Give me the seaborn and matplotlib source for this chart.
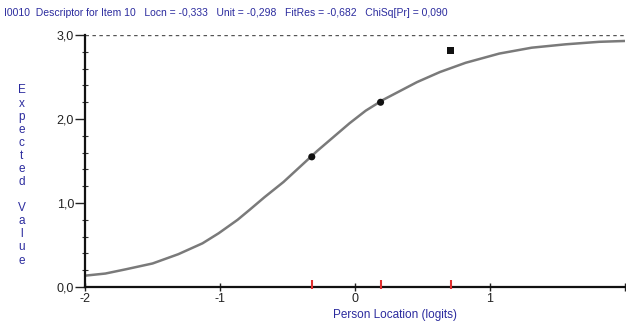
import matplotlib
matplotlib.use("Agg")
import matplotlib.pyplot as plt
import seaborn as sns
import pandas as pd
from matplotlib.ticker import MultipleLocator, FuncFormatter

sns.set_style("white")
plt.rcParams['font.family'] = ['Liberation Sans', 'DejaVu Sans']

# expected value curve
curve_x = [-2.0, -1.85, -1.70, -1.50, -1.31, -1.13, -1.01, -0.87, -0.78, -0.67, -0.53,
           -0.28, -0.04, 0.08, 0.21, 0.46, 0.63, 0.82, 1.07, 1.31, 1.56, 1.81, 2.0]
curve_y = [0.135, 0.16, 0.21, 0.28, 0.39, 0.52, 0.64, 0.80, 0.92, 1.07, 1.25,
           1.62, 1.95, 2.10, 2.23, 2.44, 2.56, 2.67, 2.78, 2.85, 2.89, 2.92, 2.93]

# observed class interval means
obs_x = [-0.32, 0.19, 0.71]
obs_y = [1.55, 2.20, 2.82]
obs_marker = ['o', 'o', 's']

max_score = 3.0
title = ("I0010  Descriptor for Item 10   Locn = -0,333   Unit = -0,298   "
         "FitRes = -0,682   ChiSq[Pr] = 0,090")
blue = '#2b2b9e'

df = pd.DataFrame({'loc': curve_x, 'ev': curve_y})
obs = pd.DataFrame({'loc': obs_x, 'ev': obs_y, 'm': obs_marker})

fig = plt.figure(figsize=(6.26, 3.25), dpi=100)
ax = fig.add_axes([0.136, 0.117, 0.862, 0.775])

sns.lineplot(data=df, x='loc', y='ev', ax=ax, color='#7a7a7a', lw=1.8, zorder=2)
sns.scatterplot(data=obs, x='loc', y='ev', style='m', markers={'o': 'o', 's': 's'},
                ax=ax, color='#111111', s=26, linewidth=0, legend=False, zorder=4)
ax.axhline(max_score, color='#555555', lw=1, ls=(0, (2.5, 2.5)))
ax.vlines(obs_x, -0.02, 0.08, color='#e03030', lw=1.5, clip_on=False, zorder=5)

ax.set_xlim(-2, 2)
ax.set_ylim(0, 3)
ax.xaxis.set_major_locator(MultipleLocator(1))
ax.yaxis.set_major_locator(MultipleLocator(1))
ax.yaxis.set_minor_locator(MultipleLocator(0.2))
ax.xaxis.set_major_formatter(FuncFormatter(lambda v, p: '' if v >= 2 else '%d' % v))
ax.yaxis.set_major_formatter(FuncFormatter(lambda v, p: ('%.1f' % v).replace('.', ',')))

for s in ['top', 'right']:
    ax.spines[s].set_visible(False)
for s in ['left', 'bottom']:
    ax.spines[s].set_color('#111111')
    ax.spines[s].set_linewidth(1.6)

ax.tick_params(axis='y', which='major', direction='out', length=7, width=1, colors='#222222',
               labelsize=9, pad=1, left=True)
ax.tick_params(axis='y', which='minor', direction='inout', length=5, width=0.8, colors='#333333', left=True)
ax.tick_params(axis='x', which='major', direction='inout', length=6, width=1, colors='#222222',
               labelsize=9, pad=1, bottom=True)

ax.set_xlabel('')
ax.set_ylabel('')
fig.text(0.631, 0.03, 'Person Location (logits)', color=blue, fontsize=8.5, ha='center', va='center')
fig.text(0.035, 0.46, '\n'.join('Expected Value'), color=blue, fontsize=8.5,
         ha='center', va='center', linespacing=1.12)
fig.text(0.006, 0.96, title, color=blue, fontsize=7.5, ha='left', va='center')

fig.savefig('out.png', dpi=100)
